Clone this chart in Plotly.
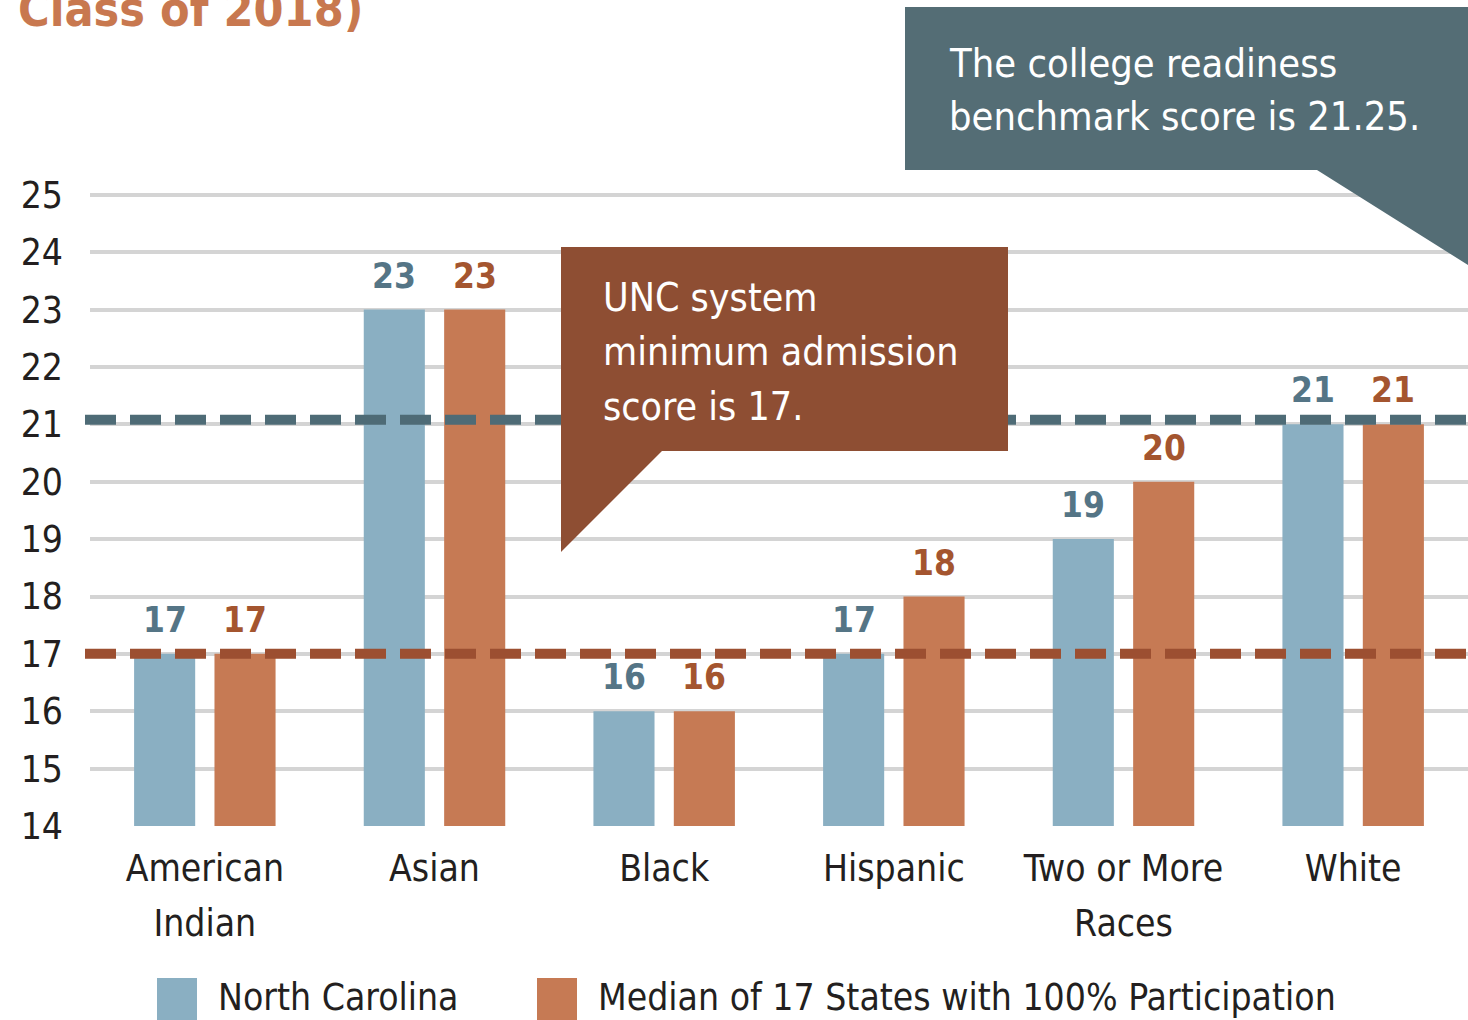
import plotly.graph_objects as go

# ---------------- data ----------------
categories = ["American<br>Indian", "Asian", "Black", "Hispanic", "Two or More<br>Races", "White"]
series_names = ["North Carolina", "Median of 17 States with 100% Participation"]
nc_scores = [17, 23, 16, 17, 19, 21]
median_scores = [17, 23, 16, 18, 20, 21]
y_ticks = [14, 15, 16, 17, 18, 19, 20, 21, 22, 23, 24, 25]
benchmark_line = 21.08       # drawn position of the 21.25 benchmark line
unc_minimum = 17
title_text = "Class of 2018)"
benchmark_note = ["The college readiness", "benchmark score is 21.25."]
unc_note = ["UNC system", "minimum admission", "score is 17."]

# ---------------- style ----------------
W, H = 1468, 1020
L, R, T, B = 90, 1468, 192, 826
FONT = "DejaVu Sans Condensed, Liberation Sans Narrow, Arial Narrow, sans-serif"
BLUE = "#8aafc2"
ORANGE = "#c67a54"
BLUE_TXT = "#557586"
ORANGE_TXT = "#a4552f"
SLATE = "#546d75"
BROWN = "#8e4e33"
DASH_BLUE = "#4e6b76"
DASH_ORANGE = "#9c4f31"
TXT = "#231f20"
TICK_SIZE = 37


def px(x):
    return (x - L) / (R - L)


def py(y):
    return (B - y) / (B - T)


fig = go.Figure()
fig.add_trace(go.Bar(x=categories, y=nc_scores, name=series_names[0],
                     marker=dict(color=BLUE, line=dict(width=0)), showlegend=False))
fig.add_trace(go.Bar(x=categories, y=median_scores, name=series_names[1],
                     marker=dict(color=ORANGE, line=dict(width=0)), showlegend=False))

annotations = []
# value labels above bars
for vals, shift, col in [(nc_scores, -40.2, BLUE_TXT), (median_scores, 40.2, ORANGE_TXT)]:
    for c, v in zip(categories, vals):
        annotations.append(dict(x=c, y=v, xref="x", yref="y", text=str(v), showarrow=False,
                                xshift=shift, yshift=12, yanchor="bottom", xanchor="center",
                                font=dict(family=FONT, size=35, color=col, weight="bold")))

shapes = []
# reference lines
shapes.append(dict(type="line", xref="paper", yref="y", x0=px(85), x1=1.0,
                   y0=unc_minimum, y1=unc_minimum, layer="above",
                   line=dict(color=DASH_ORANGE, width=10, dash="31px,14px")))
shapes.append(dict(type="line", xref="paper", yref="y", x0=px(85), x1=1.0,
                   y0=benchmark_line, y1=benchmark_line, layer="above",
                   line=dict(color=DASH_BLUE, width=10, dash="31px,14px")))


def poly(points):
    return "M " + " L ".join(f"{px(a):.5f},{py(b):.5f}" for a, b in points) + " Z"


# callout boxes
shapes.append(dict(type="path", xref="paper", yref="paper", layer="above",
                   path=poly([(905, 7), (1468, 7), (1468, 265), (1317, 170), (905, 170)]),
                   fillcolor=SLATE, line=dict(width=0)))
shapes.append(dict(type="path", xref="paper", yref="paper", layer="above",
                   path=poly([(561, 247), (1008, 247), (1008, 451), (662, 451), (561, 552)]),
                   fillcolor=BROWN, line=dict(width=0)))

for i, line in enumerate(benchmark_note):
    annotations.append(dict(x=px(947), y=py(63 + 53 * i), xref="paper", yref="paper",
                            text=line, showarrow=False, xanchor="left", yanchor="middle",
                            font=dict(family=FONT, size=39.5, color="white")))
for i, line in enumerate(unc_note):
    annotations.append(dict(x=px(601), y=py(297 + 54.5 * i), xref="paper", yref="paper",
                            text=line, showarrow=False, xanchor="left", yanchor="middle",
                            font=dict(family=FONT, size=39, color="white")))

# title (cut off at top)
annotations.append(dict(x=px(16), y=py(9), xref="paper", yref="paper", text=title_text,
                        showarrow=False, xanchor="left", yanchor="middle",
                        font=dict(family=FONT, size=48, color="#c8784f", weight="bold")))

# manual legend
for name, col, x_sq in [(series_names[0], BLUE, 157), (series_names[1], ORANGE, 537)]:
    shapes.append(dict(type="rect", xref="paper", yref="paper",
                       x0=px(x_sq), x1=px(x_sq + 40), y0=py(1030), y1=py(978),
                       fillcolor=col, line=dict(width=0)))
    annotations.append(dict(x=px(x_sq + 59), y=py(997), xref="paper", yref="paper",
                            text=name, showarrow=False, xanchor="left", yanchor="middle",
                            font=dict(family=FONT, size=37, color=TXT)))

# tick labels: glyphs at 37px, line spacing of a 42px font
span = f'<span style="font-size:{TICK_SIZE}px">'
tick_text = [span + c.replace("<br>", "</span><br>" + span) + "</span>" for c in categories]

fig.update_layout(
    width=W, height=H,
    margin=dict(l=L, r=W - R, t=T, b=H - B, pad=0),
    paper_bgcolor="white", plot_bgcolor="white",
    barmode="group", bargap=0.30, bargroupgap=0.24,
    shapes=shapes, annotations=annotations,
    showlegend=False,
    xaxis=dict(categoryorder="array", categoryarray=categories,
               tickvals=categories, ticktext=tick_text, showgrid=False,
               showline=False, zeroline=False, ticks="", ticklabelstandoff=12,
               tickfont=dict(family=FONT, size=42, color=TXT)),
    yaxis=dict(range=[14, 25.05], tickvals=y_ticks, showgrid=True, gridcolor="#d4d4d4",
               gridwidth=4, zeroline=False, showline=False, ticks="",
               ticklabelstandoff=26,
               tickfont=dict(family=FONT, size=TICK_SIZE, color=TXT)),
)

fig.write_html("out.html", config={"displayModeBar": False},
               post_script="document.body.style.margin='0px';")
